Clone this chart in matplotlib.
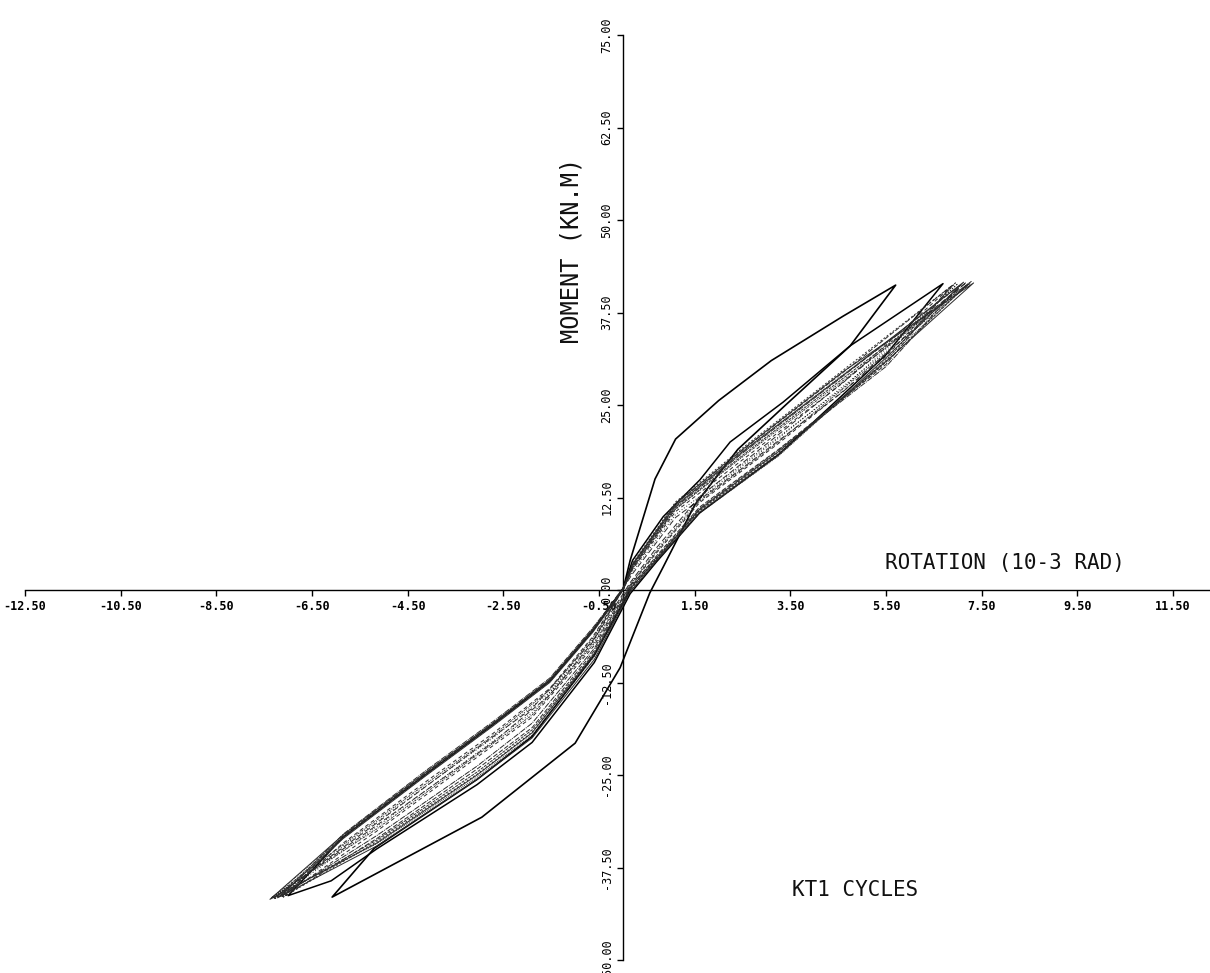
import matplotlib
matplotlib.use("Agg")
import matplotlib.pyplot as plt

# ---- axis ticks ----
x_ticks = [-12.5, -10.5, -8.5, -6.5, -4.5, -2.5, -0.5, 1.5, 3.5, 5.5, 7.5, 9.5, 11.5]
y_ticks = [-50.0, -37.5, -25.0, -12.5, 0.0, 12.5, 25.0, 37.5, 50.0, 62.5, 75.0]

# ---- cycle 1 (outer loop) ----
c1_x = [0.0, 0.15, 0.67, 1.10, 2.0, 3.1, 4.6, 5.70, 4.75, 3.4, 2.4, 1.5, 0.84, 0.56, -0.06,
        -1.0, -2.95, -6.08, -5.20, -3.05, -1.9, -0.6, 0.15]
c1_y = [0.0, 4.0, 15.0, 20.4, 25.6, 31.0, 37.0, 41.2, 33.0, 25.0, 19.0, 11.5, 3.1, -0.4, -10.5,
        -20.7, -30.7, -41.5, -34.9, -25.6, -19.8, -8.8, 0.0]

# ---- cycle 2 ----
c2_x = [0.0, 0.2, 0.84, 1.61, 2.24, 3.35, 4.75, 6.69, 5.5, 3.25, 1.6, 0.7, 0.15, -0.6,
        -1.9, -3.05, -5.15, -6.1, -7.0, -5.85, -4.1, -2.72, -1.53, -0.63, 0.0]
c2_y = [0.0, 4.0, 9.9, 14.9, 20.0, 25.4, 33.0, 41.4, 31.8, 18.3, 10.4, 3.8, -0.5, -9.8,
        -20.6, -26.3, -35.0, -39.3, -41.3, -33.4, -24.8, -18.2, -12.3, -5.5, 0.2]

# ---- stabilised cycles 3..13 ----
c3_x = [0.0, 0.2, 1.1, 2.5, 4.6, 6.85, 5.5, 3.25, 1.6, 0.7, 0.15, -0.6, -1.9, -3.05, -5.15, -7.05, -5.85, -4.1, -2.72, -1.53, -0.63, 0.0]
c3_y = [0.0, 3.3, 11.6, 18.9, 29.4, 41.0, 30.5, 19.0, 11.2, 4.6, 0.3, -8.2, -18.6, -24.2, -33.6, -41.3, -33.2, -24.6, -18.0, -12.1, -5.3, 0.3]

c4_x = [0.0, 0.2, 1.1, 2.5, 4.6, 6.95, 5.5, 3.25, 1.6, 0.7, 0.15, -0.6, -1.9, -3.05, -5.15, -7.10, -5.85, -4.1, -2.72, -1.53, -0.63, 0.0]
c4_y = [0.3, 3.6, 11.9, 19.2, 29.7, 41.5, 31.0, 18.6, 10.8, 4.2, 0.0, -8.8, -19.2, -24.9, -34.0, -41.5, -33.5, -24.9, -18.3, -12.4, -5.6, 0.2]

c5_x = [0.0, 0.2, 1.1, 2.5, 4.6, 7.05, 5.5, 3.25, 1.6, 0.7, 0.15, -0.6, -1.9, -3.05, -5.15, -7.15, -5.85, -4.1, -2.72, -1.53, -0.63, 0.0]
c5_y = [0.2, 3.1, 11.2, 18.5, 28.9, 41.2, 30.2, 18.9, 11.0, 4.4, 0.5, -7.9, -18.0, -23.8, -33.2, -41.4, -33.0, -24.3, -17.8, -11.9, -5.1, 0.1]

c6_x = [0.0, 0.2, 1.1, 2.5, 4.6, 7.12, 5.5, 3.25, 1.6, 0.7, 0.15, -0.6, -1.9, -3.05, -5.15, -7.22, -5.85, -4.1, -2.72, -1.53, -0.63, 0.0]
c6_y = [0.1, 3.4, 11.4, 18.7, 29.0, 41.6, 31.4, 18.2, 10.5, 4.0, -0.2, -9.4, -20.0, -25.6, -34.6, -41.6, -33.6, -25.0, -18.4, -12.5, -5.7, 0.0]

c7_x = [0.0, 0.2, 1.1, 2.5, 4.6, 7.20, 5.5, 3.25, 1.6, 0.7, 0.15, -0.6, -1.9, -3.05, -5.15, -7.28, -5.85, -4.1, -2.72, -1.53, -0.63, 0.0]
c7_y = [0.0, 3.0, 11.0, 18.2, 28.6, 41.3, 30.8, 18.4, 10.7, 4.3, 0.1, -8.5, -18.9, -24.6, -33.8, -41.7, -33.4, -24.7, -18.1, -12.2, -5.4, 0.2]

c8_x = [0.0, 0.2, 1.1, 2.5, 4.6, 7.28, 5.5, 3.25, 1.6, 0.7, 0.15, -0.6, -1.9, -3.05, -5.15, -7.34, -5.85, -4.1, -2.72, -1.53, -0.63, 0.0]
c8_y = [0.2, 3.2, 11.3, 18.6, 29.1, 41.7, 31.2, 18.1, 10.4, 3.9, -0.3, -9.0, -19.6, -25.3, -34.3, -41.6, -33.3, -24.8, -18.2, -12.3, -5.5, 0.1]

c9_x = [0.0, 0.2, 1.1, 2.5, 4.6, 7.33, 5.5, 3.25, 1.6, 0.7, 0.15, -0.6, -1.9, -3.05, -5.15, -7.38, -5.85, -4.1, -2.72, -1.53, -0.63, 0.0]
c9_y = [0.1, 3.5, 11.7, 19.0, 29.5, 41.5, 30.9, 18.7, 10.9, 4.1, 0.2, -8.6, -19.3, -25.0, -34.2, -41.8, -33.1, -24.5, -18.0, -12.1, -5.3, 0.0]

c10_x = [0.0, 0.2, 1.1, 2.5, 4.6, 6.90, 5.5, 3.25, 1.6, 0.7, 0.15, -0.6, -1.9, -3.05, -5.15, -7.12, -5.85, -4.1, -2.72, -1.53, -0.63, 0.0]
c10_y = [0.0, 2.8, 10.6, 17.6, 28.0, 41.2, 31.6, 19.8, 11.8, 5.0, 0.6, -7.5, -17.2, -22.6, -32.6, -41.4, -34.2, -25.8, -19.4, -13.3, -6.3, 0.0]

c11_x = [0.0, 0.2, 1.1, 2.5, 4.6, 7.00, 5.5, 3.25, 1.6, 0.7, 0.15, -0.6, -1.9, -3.05, -5.15, -7.20, -5.85, -4.1, -2.72, -1.53, -0.63, 0.0]
c11_y = [0.1, 2.5, 10.2, 17.0, 27.3, 41.4, 32.2, 20.5, 12.3, 5.4, 0.8, -7.0, -16.6, -22.0, -32.0, -41.5, -34.6, -26.4, -20.0, -13.8, -6.7, 0.1]

c12_x = [0.0, 0.2, 1.1, 2.5, 4.6, 7.18, 5.5, 3.25, 1.6, 0.7, 0.15, -0.6, -1.9, -3.05, -5.15, -7.30, -5.85, -4.1, -2.72, -1.53, -0.63, 0.0]
c12_y = [0.2, 2.2, 9.8, 16.5, 26.8, 41.6, 32.8, 21.0, 12.6, 5.7, 1.0, -6.6, -16.0, -21.4, -31.5, -41.6, -35.0, -27.0, -20.6, -14.2, -7.0, 0.2]

c13_x = [0.0, 0.2, 1.1, 2.5, 4.6, 7.25, 5.5, 3.25, 1.6, 0.7, 0.15, -0.6, -1.9, -3.05, -5.15, -7.35, -5.85, -4.1, -2.72, -1.53, -0.63, 0.0]
c13_y = [0.1, 2.9, 10.9, 18.0, 28.3, 41.4, 32.0, 20.0, 12.0, 5.2, 0.7, -7.2, -16.9, -22.3, -32.3, -41.6, -34.4, -26.1, -19.7, -13.5, -6.5, 0.1]

W, H = 1210, 973
fig = plt.figure(figsize=(W / 100, H / 100), dpi=100)
fig.patch.set_facecolor("white")

# data window: x -12.5 at px 25, y 75 at px 35, -50 at px 960
left_px, right_px = 25, 1209
top_px, bot_px = 35, 960
ax = fig.add_axes([left_px / W, 1 - bot_px / H, (right_px - left_px) / W, (bot_px - top_px) / H])
ax.set_xlim(-12.5, 12.25)
ax.set_ylim(-50, 75)
ax.patch.set_alpha(0)

for s in ("top", "right"):
    ax.spines[s].set_visible(False)
ax.spines["left"].set_position(("data", 0))
ax.spines["bottom"].set_position(("data", 0))
ax.spines["left"].set_linewidth(1.0)
ax.spines["bottom"].set_linewidth(1.0)

ax.set_xticks(x_ticks)
ax.set_xticklabels([f"{v:.2f}" for v in x_ticks])
ax.set_yticks(y_ticks)
ax.set_yticklabels([f"{v:.2f}" for v in y_ticks])
ax.tick_params(axis="x", direction="out", length=4, width=1, pad=3, labelsize=8.5)
ax.tick_params(axis="y", direction="out", length=4, width=1, pad=3, labelsize=8.5, labelrotation=90)
for lab in ax.get_xticklabels():
    lab.set_fontfamily("DejaVu Sans Mono")
    lab.set_fontweight("bold")
for lab in ax.get_yticklabels():
    lab.set_fontfamily("DejaVu Sans Mono")
    lab.set_va("center")
    lab.set_ha("right")

# curves
ax.plot(c1_x, c1_y, color="black", lw=1.2, zorder=5)
ax.plot(c2_x, c2_y, color="black", lw=1.1, zorder=5)
band = [(c3_x, c3_y, (0, (5, 2))), (c4_x, c4_y, (0, (2, 2))), (c5_x, c5_y, (0, (6, 1, 1, 1))),
        (c6_x, c6_y, "-"), (c7_x, c7_y, (0, (3, 1))), (c8_x, c8_y, (0, (1, 1))),
        (c9_x, c9_y, "-"), (c10_x, c10_y, (0, (4, 3))), (c11_x, c11_y, (0, (1, 2))),
        (c12_x, c12_y, (0, (6, 3))), (c13_x, c13_y, (0, (2, 1, 1, 1)))]
for bx, by, ls in band:
    ax.plot(bx, by, color="#2a2a2a", lw=0.7, ls=ls, zorder=5)

# axis titles
fig.text(1005 / W, 1 - 563 / H, "ROTATION (10-3 RAD)", family="DejaVu Sans Mono",
         fontsize=15, ha="center", va="center", color="#111111")
fig.text(572 / W, 1 - 250 / H, "MOMENT (KN.M)", family="DejaVu Sans Mono",
         fontsize=17, ha="center", va="center", rotation=90, color="#111111")
fig.text(855 / W, 1 - 890 / H, "KT1 CYCLES", family="DejaVu Sans Mono",
         fontsize=15, ha="center", va="center", color="#111111")

fig.savefig("out.png", dpi=100, facecolor="white")
